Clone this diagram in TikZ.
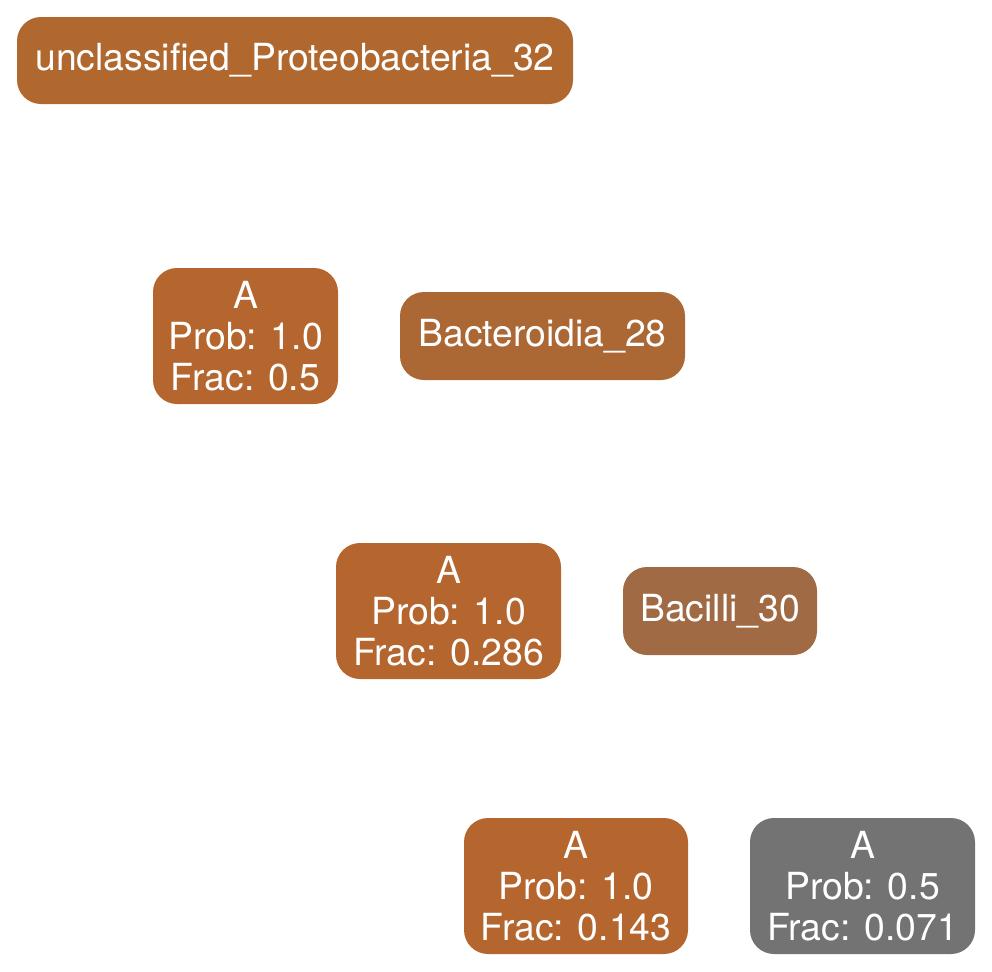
\documentclass[tikz,border=0pt]{standalone}
\usepackage{fontspec}
\setmainfont{TeX Gyre Heros}
\definecolor{cprot}{HTML}{B0682F}
\definecolor{cbact}{HTML}{AB6835}
\definecolor{cbaci}{HTML}{A06A44}
\definecolor{cA}{HTML}{B5662F}
\definecolor{cgray}{HTML}{737373}
\begin{document}
\begin{tikzpicture}[x=0.75pt,y=-0.75pt,
  box/.style={rounded corners=18pt,inner sep=0pt,text=white,align=center,
    font=\fontsize{28}{30.5}\selectfont},
  ]
\useasboundingbox (0,0) rectangle (992,971);
\node[box,fill=cprot,minimum width=556*0.75pt,minimum height=87*0.75pt] (prot) at (295,60.5) {unclassified\_Proteobacteria\_32};
\node[box,fill=cA,minimum width=185*0.75pt,minimum height=136*0.75pt] (a1) at (245.5,336) {A\\Prob: 1.0\\Frac: 0.5};
\node[box,fill=cbact,minimum width=285*0.75pt,minimum height=88*0.75pt] (bact) at (542.5,336) {Bacteroidia\_28};
\node[box,fill=cA,minimum width=225*0.75pt,minimum height=136*0.75pt] (a2) at (448.5,611) {A\\Prob: 1.0\\Frac: 0.286};
\node[box,fill=cbaci,minimum width=194*0.75pt,minimum height=88*0.75pt] (baci) at (720,611) {Bacilli\_30};
\node[box,fill=cA,minimum width=224*0.75pt,minimum height=136*0.75pt] (a3) at (576,886) {A\\Prob: 1.0\\Frac: 0.143};
\node[box,fill=cgray,minimum width=225*0.75pt,minimum height=136*0.75pt] (a4) at (862.5,886) {A\\Prob: 0.5\\Frac: 0.071};
\end{tikzpicture}
\end{document}
